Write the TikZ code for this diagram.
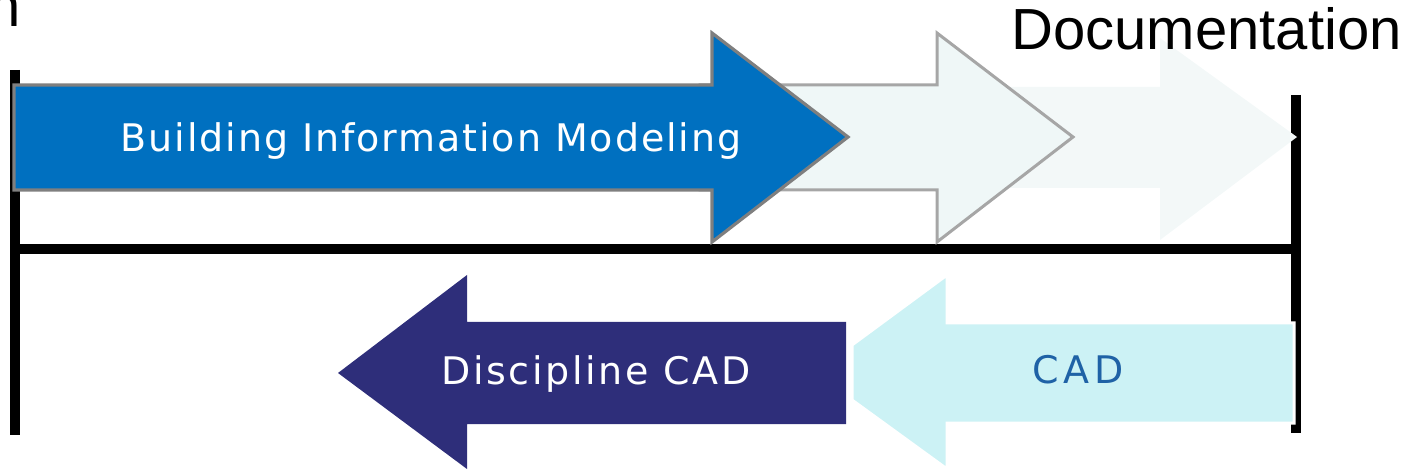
\documentclass[tikz,border=0pt]{standalone}
\usepackage{fontspec}
\setmainfont{Liberation Sans}
\newfontfamily\lblfontA[LetterSpace=5]{DejaVu Sans}
\newfontfamily\lblfontB[LetterSpace=7]{DejaVu Sans}
\newfontfamily\lblfontC[LetterSpace=13]{DejaVu Sans}
\definecolor{bimblue}{HTML}{0070C0}
\definecolor{bimedge}{HTML}{7F7F7F}
\definecolor{ghostfill}{HTML}{EFF7F7}
\definecolor{ghostedge}{HTML}{A6A6A6}
\definecolor{faintfill}{HTML}{F3F8F8}
\definecolor{discblue}{HTML}{2E2E7A}
\definecolor{cadfill}{HTML}{CCF2F5}
\definecolor{cadtext}{HTML}{1F62A6}
\tikzset{
  axisline/.style={line width=5pt, line cap=butt, black},
  lbl/.style={inner sep=0pt, anchor=base, font=\fontsize{19}{21}\selectfont},
  bigtxt/.style={inner sep=0pt, font=\fontsize{29}{32}\selectfont, text=black},
}
\begin{document}
\begin{tikzpicture}[x=0.5pt, y=-0.5pt]
\useasboundingbox (0,0) rectangle (1409,470);
\begin{scope}
\clip (0,0) rectangle (1409,470);
% frame lines
\coordinate (tl) at (15,70);
\coordinate (bl) at (15,435);
\coordinate (hl) at (10,249);
\coordinate (hr) at (1301,249);
\coordinate (tr) at (1296,95);
\coordinate (br) at (1296,433);
\draw[axisline] (tl) -- (bl);
\draw[axisline] (hl) -- (hr);
\draw[axisline] (tr) -- (br);
% upper arrows (back to front)
\fill[faintfill] (950,87) -- (1160,87) -- (1160,38) -- (1297,137) -- (1160,240) -- (1160,188) -- (950,188) -- cycle;
\filldraw[fill=ghostfill, draw=ghostedge, line width=1.5pt, line join=miter]
  (700,85) -- (937,85) -- (937,33) -- (1073,137) -- (937,242) -- (937,190) -- (700,190) -- cycle;
\filldraw[fill=bimblue, draw=bimedge, line width=1.6pt, line join=miter]
  (14,85) -- (712,85) -- (712,33) -- (848,137) -- (712,242) -- (712,190) -- (14,190) -- cycle;
% lower arrows
\filldraw[fill=cadfill, draw=white, line width=1.5pt, line join=miter]
  (852,345) -- (947,275) -- (947,323) -- (1294,323) -- (1294,423) -- (947,423) -- (947,469) -- (852,400) -- cycle;
\fill[discblue]
  (338,373) -- (467,275) -- (467,322) -- (846,322) -- (846,424) -- (467,424) -- (467,469) -- cycle;
% labels
\node[lbl, text=white] (bim) at (431,152) {\lblfontA Building Information Modeling};
\node[lbl, text=white] (disc) at (596,385) {\lblfontB Discipline CAD};
\node[lbl, text=cadtext] (cad) at (1078,384) {\lblfontC CAD};
\node[bigtxt, anchor=base east] (doc) at (1402,50) {Documentation};
\node[bigtxt, anchor=base east] (cut) at (21,27) {n};
\end{scope}
\end{tikzpicture}
\end{document}
